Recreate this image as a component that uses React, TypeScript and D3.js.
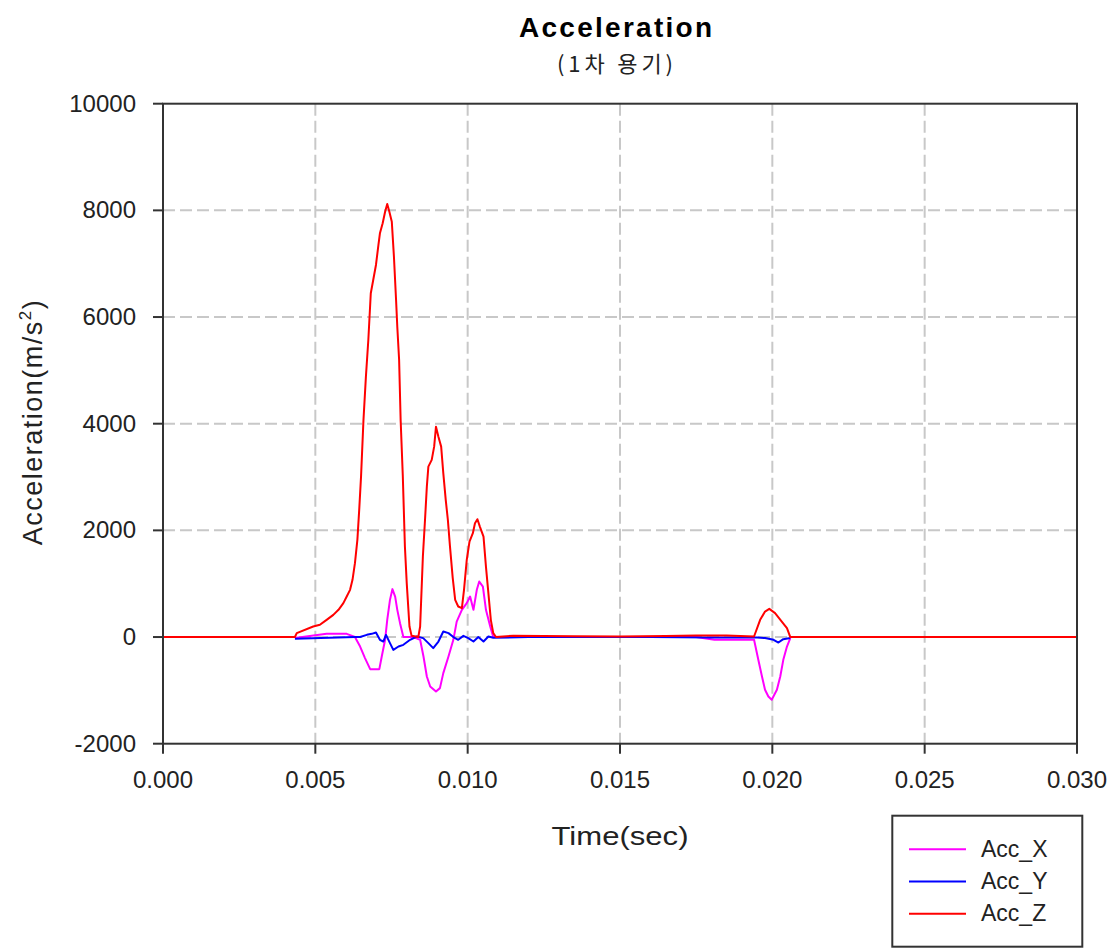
import React from "react";
import * as d3 from "d3";

const xTicks = [0, 0.005, 0.01, 0.015, 0.02, 0.025, 0.03];
const yTicks = [-2000, 0, 2000, 4000, 6000, 8000, 10000];

const accZ: [number, number][] = [
  [0, 0], [0.00433, 0], [0.00439, 73], [0.00493, 197], [0.00515, 229], [0.00537, 322],
  [0.00559, 416], [0.00576, 510], [0.00592, 635], [0.00603, 759], [0.00614, 885],
  [0.00622, 1072], [0.0063, 1385], [0.00638, 1822], [0.00644, 2384], [0.0065, 3008],
  [0.00658, 4070], [0.00666, 4882], [0.00674, 5575], [0.00682, 6445], [0.0069, 6694],
  [0.00699, 6976], [0.00707, 7350], [0.00712, 7569], [0.00721, 7757], [0.00729, 7974],
  [0.00736, 8118], [0.00743, 7974], [0.00751, 7787], [0.00758, 7131], [0.00765, 6320],
  [0.00769, 5819], [0.00775, 5195], [0.0078, 4070], [0.00787, 3039], [0.00794, 1696],
  [0.008, 1010], [0.00809, 197], [0.00816, 22], [0.00838, 0], [0.00844, 197],
  [0.00853, 1509], [0.0086, 2196], [0.00866, 2820], [0.00871, 3195], [0.00882, 3321],
  [0.0089, 3570], [0.00896, 3945], [0.00904, 3757], [0.00913, 3570], [0.0092, 3072],
  [0.00928, 2571], [0.00935, 2196], [0.00942, 1696], [0.00951, 1104], [0.00959, 697],
  [0.00969, 572], [0.00981, 542], [0.00988, 885], [0.00997, 1447], [0.01006, 1790],
  [0.01017, 1947], [0.01024, 2134], [0.01032, 2209], [0.0104, 2071], [0.01052, 1883],
  [0.0106, 1321], [0.01068, 823], [0.01076, 322], [0.01084, 73], [0.01093, 0],
  [0.0115, 25], [0.0125, 20], [0.0135, 15], [0.015, 10], [0.0165, 20], [0.0175, 30],
  [0.0185, 30], [0.0194, 10], [0.0196, 322], [0.01976, 478], [0.0199, 528],
  [0.02009, 448], [0.02031, 290], [0.02048, 167], [0.02059, 0], [0.03, 0],
];

const accX: [number, number][] = [
  [0.00433, -20], [0.00537, 60], [0.00603, 60], [0.0063, 0], [0.00647, -178],
  [0.00663, -395], [0.0068, -602], [0.0071, -602], [0.00718, -365], [0.00729, -52],
  [0.00736, 322], [0.00745, 697], [0.00753, 898], [0.00762, 759], [0.00769, 510],
  [0.00778, 260], [0.00789, 0], [0.00822, 0], [0.00844, -52], [0.00855, -365],
  [0.00866, -740], [0.00877, -928], [0.00896, -1021], [0.00909, -958], [0.0092, -677],
  [0.00937, -365], [0.00953, -52], [0.00964, 290], [0.00981, 510], [0.00997, 635],
  [0.01008, 759], [0.01019, 510], [0.0103, 885], [0.01038, 1040], [0.0105, 946],
  [0.0106, 510], [0.01074, 197], [0.01084, 0], [0.0125, 0], [0.015, 0], [0.0175, 0],
  [0.0181, -50], [0.0194, -52], [0.01954, -427], [0.01966, -740], [0.01976, -989],
  [0.01987, -1115], [0.01998, -1177], [0.02015, -989], [0.02026, -740],
  [0.02036, -427], [0.02048, -178], [0.02059, -20],
];

const accY: [number, number][] = [
  [0.00433, -34], [0.0063, 0], [0.00647, 0], [0.00669, 41], [0.00685, 60],
  [0.00699, 84], [0.00712, -52], [0.00723, -84], [0.00732, 41], [0.00745, -114],
  [0.00756, -240], [0.00773, -178], [0.00789, -146], [0.00811, -52], [0.00833, 10],
  [0.00854, -20], [0.00871, -114], [0.00887, -208], [0.00904, -84], [0.0092, 103],
  [0.00937, 73], [0.00953, 0], [0.00969, -52], [0.00986, 22], [0.01002, -20],
  [0.01019, -84], [0.01035, 0], [0.01052, -84], [0.01068, 10], [0.01084, -15],
  [0.012, 0], [0.014, 0], [0.016, 0], [0.018, -10], [0.0195, -10], [0.01976, -20],
  [0.02004, -52], [0.0202, -103], [0.02036, -40], [0.02059, -20],
];

const series = [
  { name: "Acc_X", color: "#ff00ff", data: accX },
  { name: "Acc_Y", color: "#0000ff", data: accY },
  { name: "Acc_Z", color: "#ff0000", data: accZ },
];

const W = 1117, H = 949;
const L = 163, R = 1077, T = 103.7, B = 743.7;

export default function App() {
  const x = d3.scaleLinear().domain([0, 0.03]).range([L, R]);
  const y = d3.scaleLinear().domain([-2000, 10000]).range([B, T]);
  const line = d3.line<[number, number]>().x((d) => x(d[0])).y((d) => y(d[1]));
  const font = "'Liberation Sans', Arial, sans-serif";
  const axisCol = "#333";
  return (
    <svg width={W} height={H} style={{ position: "absolute", left: 0, top: 0, background: "#fff" }} fontFamily={font}>
      <rect x={0} y={0} width={W} height={H} fill="#fff" />
      {/* grid */}
      {xTicks.slice(1, -1).map((t) => (
        <line key={"gx" + t} x1={x(t)} x2={x(t)} y1={T} y2={B} stroke="#c8c8c8" strokeWidth={2} strokeDasharray="12 5" />
      ))}
      {yTicks.slice(1, -1).map((t) => (
        <line key={"gy" + t} x1={L} x2={R} y1={y(t)} y2={y(t)} stroke="#c8c8c8" strokeWidth={2} strokeDasharray="12 5" />
      ))}
      {/* series */}
      {series.map((s) => (
        <path key={s.name} d={line(s.data) || ""} fill="none" stroke={s.color} strokeWidth={2} strokeLinejoin="round" />
      ))}
      {/* frame */}
      <rect x={L} y={T} width={R - L} height={B - T} fill="none" stroke={axisCol} strokeWidth={2} />
      {yTicks.map((t) => (
        <g key={"ty" + t}>
          <line x1={L - 10} x2={L} y1={y(t)} y2={y(t)} stroke={axisCol} strokeWidth={2} />
          <text x={136} y={y(t) + 8} textAnchor="end" fontSize={24} fill="#222">{t}</text>
        </g>
      ))}
      {xTicks.map((t) => (
        <g key={"tx" + t}>
          <line x1={x(t)} x2={x(t)} y1={B} y2={B + 10} stroke={axisCol} strokeWidth={2} />
          <text x={x(t)} y={788} textAnchor="middle" fontSize={24} fill="#222">{t.toFixed(3)}</text>
        </g>
      ))}
      {/* titles */}
      <text x={615.5} y={37} textAnchor="middle" fontSize={28} fontWeight="bold" fill="#000" textLength={193} lengthAdjust="spacing">Acceleration</text>
      <text x={615} y={72} textAnchor="middle" fontSize={22} fill="#222" fontFamily="'Noto Sans CJK KR', sans-serif" textLength={116} lengthAdjust="spacing">(1차 용기)</text>
      <text x={620} y={845} textAnchor="middle" fontSize={26} fill="#222" textLength={137} lengthAdjust="spacingAndGlyphs">Time(sec)</text>
      <text transform={`translate(42,422) rotate(-90)`} textAnchor="middle" fontSize={27} letterSpacing={1.5} fill="#222">
        Acceleration(m/s<tspan dy={-11} fontSize={17}>2</tspan><tspan dy={11}>)</tspan>
      </text>
      {/* legend */}
      <rect x={892.3} y={815.7} width={190} height={131} fill="#fff" stroke={axisCol} strokeWidth={2} />
      {series.map((s, i) => (
        <g key={"lg" + s.name}>
          <line x1={909} x2={966} y1={849.3 + i * 32.2} y2={849.3 + i * 32.2} stroke={s.color} strokeWidth={2} />
          <text x={981} y={857 + i * 32.2} fontSize={23} fill="#222">{s.name}</text>
        </g>
      ))}
    </svg>
  );
}
